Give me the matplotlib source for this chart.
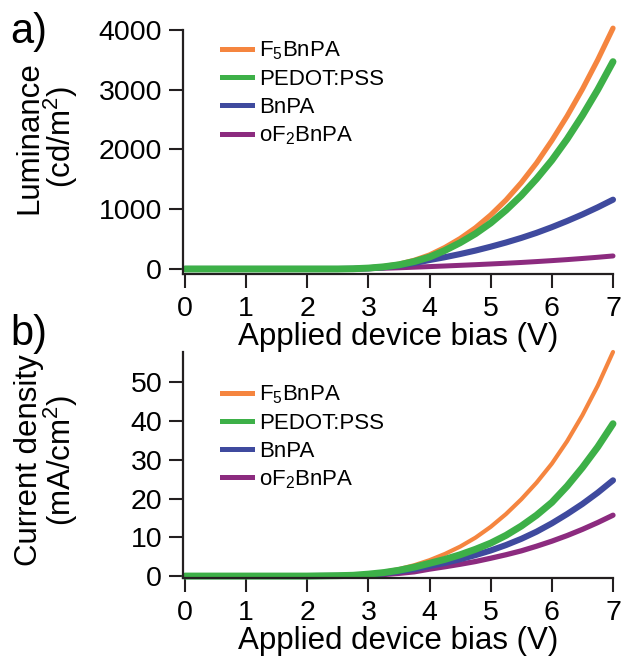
import numpy as np
import matplotlib
matplotlib.use("Agg")
import matplotlib.pyplot as plt

# ========================================
# Data
# ========================================

bias = [0.0, 0.5, 1.0, 1.5, 2.0, 2.5, 2.75, 3.0, 3.25, 3.5, 3.75, 4.0, 4.25, 4.5,
        4.75, 5.0, 5.25, 5.5, 5.75, 6.0, 6.25, 6.5, 6.75, 7.0]

series_names = ["F$_5$BnPA", "PEDOT:PSS", "BnPA", "oF$_2$BnPA"]

# Luminance (cd/m^2)
lum_f5bnpa = [0, 0, 0, 0, 0, 0, 5, 18, 42, 80, 145, 234, 359, 509,
              689, 904, 1154, 1444, 1774, 2150, 2560, 3010, 3500, 4030]
lum_pedot = [0, 0, 0, 0, 0, 0, 4, 15, 36, 70, 125, 200, 310, 440,
             590, 770, 985, 1230, 1510, 1820, 2175, 2570, 3000, 3470]
lum_bnpa = [0, 0, 0, 0, 0, 0, 3, 12, 30, 58, 100, 150, 197, 250,
            308, 373, 443, 520, 605, 700, 803, 913, 1032, 1160]
lum_of2bnpa = [0, 0, 0, 0, 0, 0, 1, 5, 12, 20, 30, 40, 50, 61,
               72, 84, 96, 109, 124, 140, 157, 176, 196, 218]

# Current density (mA/cm^2)
cur_f5bnpa = [0, 0, 0, 0, 0, 0.1, 0.3, 0.6, 1.1, 1.8, 2.8, 4.1, 5.7, 7.6,
              9.9, 12.7, 16.0, 19.8, 24.1, 29.0, 34.8, 41.5, 49.1, 57.8]
cur_pedot = [0, 0, 0, 0, 0, 0.1, 0.2, 0.5, 0.9, 1.5, 2.3, 3.3, 4.3, 5.5,
             6.9, 8.5, 10.5, 12.9, 15.7, 19.0, 23.2, 28.0, 33.3, 39.3]
cur_bnpa = [0, 0, 0, 0, 0, 0.05, 0.15, 0.35, 0.7, 1.2, 1.8, 2.6, 3.4, 4.35,
            5.4, 6.6, 8.0, 9.6, 11.45, 13.6, 16.0, 18.6, 21.5, 24.7]
cur_of2bnpa = [0, 0, 0, 0, 0, 0.03, 0.1, 0.2, 0.4, 0.7, 1.1, 1.8, 2.4, 3.05,
               3.75, 4.6, 5.5, 6.5, 7.7, 9.0, 10.45, 12.05, 13.8, 15.7]

# ========================================
# Style
# ========================================

plt.rcParams['font.family'] = ['Liberation Sans', 'DejaVu Sans']
plt.rcParams['mathtext.default'] = 'regular'

colors = ["#F5853F", "#3DB048", "#3F4A9E", "#8C2B7F"]
widths_a = [3.8, 5.0, 4.4, 3.6]
widths_b = [3.0, 5.0, 4.4, 3.8]
draw_order = [3, 2, 0, 1]  # green on top like the original
ink = "#231F20"

fig = plt.figure(figsize=(6.21, 6.64), dpi=100)
W, H = 621, 664


def px_axes(left, top, right, bottom):
    return fig.add_axes([left / W, 1 - bottom / H, (right - left) / W, (bottom - top) / H])


def style_axes(ax):
    for side in ["top", "right"]:
        ax.spines[side].set_visible(False)
    for side in ["left", "bottom"]:
        ax.spines[side].set_linewidth(1.6)
        ax.spines[side].set_color(ink)
    ax.tick_params(direction='out', length=10, width=1.5, color=ink,
                   labelsize=20.5, pad=5)
    ax.tick_params(axis='x', pad=6)
    ax.set_xlim(-0.033, 7)
    ax.set_xticks(range(0, 8))
    ax.set_xlabel("Applied device bias (V)", fontsize=22.5, labelpad=0)


def draw(ax, ys, widths):
    for i in draw_order:
        ax.plot(bias, ys[i], color=colors[i], lw=widths[i],
                solid_capstyle='round', clip_on=False)
    return [plt.Line2D([], [], color=c, lw=3.6) for c in colors]


def add_legend(ax, handles, top):
    ax.legend(handles, series_names, loc='upper left', bbox_to_anchor=(0.09, top),
              frameon=False, fontsize=16, handlelength=1.35, handletextpad=0.35,
              labelspacing=0.3, borderpad=0, borderaxespad=0)


# ========================================
# Panel a - luminance
# ========================================

ax1 = px_axes(183, 30, 613, 274)
style_axes(ax1)
ax1.set_ylim(-84, 4000)
ax1.set_yticks([0, 1000, 2000, 3000, 4000])
handles = draw(ax1, [lum_f5bnpa, lum_pedot, lum_bnpa, lum_of2bnpa], widths_a)
ax1.set_ylabel("Luminance\n(cd/m$^2$)", fontsize=22.5, linespacing=0.9)
ax1.yaxis.set_label_coords(-0.24, 0.56)
add_legend(ax1, handles, 0.96)

# ========================================
# Panel b - current density
# ========================================

ax2 = px_axes(183, 352, 613, 578)
style_axes(ax2)
ax2.set_ylim(-0.5, 57.8)
ax2.set_yticks([0, 10, 20, 30, 40, 50])
handles = draw(ax2, [cur_f5bnpa, cur_pedot, cur_bnpa, cur_of2bnpa], widths_b)
ax2.set_ylabel("Current density\n(mA/cm$^2$)", fontsize=22.5, linespacing=0.9)
ax2.yaxis.set_label_coords(-0.24, 0.52)
add_legend(ax2, handles, 0.86)

# panel letters
fig.text(10 / W, 1 - 32 / H, "a)", fontsize=30, va='center', ha='left')
fig.text(10 / W, 1 - 334 / H, "b)", fontsize=30, va='center', ha='left')

fig.savefig("out.png", dpi=100)
